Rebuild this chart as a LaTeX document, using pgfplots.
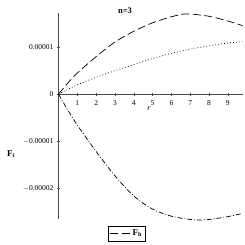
\documentclass[border=0pt]{standalone}
\usepackage{fontspec}
\setmainfont{Liberation Serif}
\usepackage{pgfplots}
\pgfplotsset{compat=1.18}
\begin{document}
\begin{tikzpicture}[x=1pt,y=1pt]
\useasboundingbox (0,0) rectangle (245,245);
\begin{axis}[
  at={(58.5pt,26pt)}, anchor=south west,
  scale only axis, width=184pt, height=206pt,
  xmin=0, xmax=9.78, ymin=-2.66e-5, ymax=1.73e-5,
  axis lines=middle, axis line style={-, line width=0.6pt, black!70},
  xtick={1,2,3,4,5,6,7,8,9},
  ytick={-2e-5,-1e-5,0,1e-5},
  yticklabels={$-$0.00002,$-$0.00001,0,0.00001},
  hide obscured y ticks=false,
  minor x tick num=4, minor y tick num=4,
  tick align=center,
  major tick length=3pt, minor tick length=1pt,
  tick style={black!70, line width=0.4pt},
  minor tick style={black!40, line width=0.3pt},
  /pgf/number format/assume math mode=true,
  tick label style={font=\fontsize{7.5}{8}\selectfont},
  scaled y ticks=false,
  every x tick label/.style={anchor=north, yshift=-1pt},
  clip=false,
  legend style={at={(0.372,-0.035)}, anchor=north, draw=black, line width=0.6pt, font=\fontsize{9}{10}\selectfont\bfseries, inner sep=1.5pt, row sep=-2pt},
  legend image code/.code={\draw[#1, dash pattern=on 8pt off 3.5pt] (0pt,0pt) -- (20pt,0pt);},
  legend cell align=left,
]
\addplot[black, line width=0.7pt, dash pattern=on 8pt off 3.5pt, smooth] coordinates {
(0,0) (0.5,0.24e-5) (1,0.45e-5) (2,0.80e-5) (3,1.11e-5) (4,1.34e-5) (5,1.52e-5) (6,1.65e-5) (6.7,1.71e-5) (7,1.71e-5) (8,1.66e-5) (9,1.56e-5) (9.78,1.46e-5)};
\addlegendentry{F\textsubscript{h}}
\addplot[black, line width=0.7pt, dash pattern=on 0.8pt off 2.2pt, smooth, forget plot] coordinates {
(0,0) (1,0.20e-5) (2,0.36e-5) (3,0.50e-5) (4,0.63e-5) (5,0.76e-5) (6,0.87e-5) (7,0.96e-5) (8,1.03e-5) (9,1.09e-5) (9.78,1.12e-5)};
\addplot[black, line width=0.7pt, dash pattern=on 5pt off 2pt on 0.8pt off 2pt, smooth, forget plot] coordinates {
(0,0) (0.5,-0.34e-5) (1,-0.66e-5) (2,-1.22e-5) (3,-1.74e-5) (4,-2.17e-5) (5,-2.45e-5) (6,-2.60e-5) (7,-2.67e-5) (7.5,-2.68e-5) (8,-2.67e-5) (9,-2.61e-5) (9.78,-2.54e-5)};
\end{axis}
\node[font=\fontsize{8.5}{9}\selectfont\bfseries] at (125,234) {n=3};
\node[font=\fontsize{8}{9}\selectfont\itshape] at (149,136) {r};
\node[font=\fontsize{9}{10}\selectfont\bfseries] at (11,91) {F\textsubscript{i}};
\end{tikzpicture}
\end{document}
